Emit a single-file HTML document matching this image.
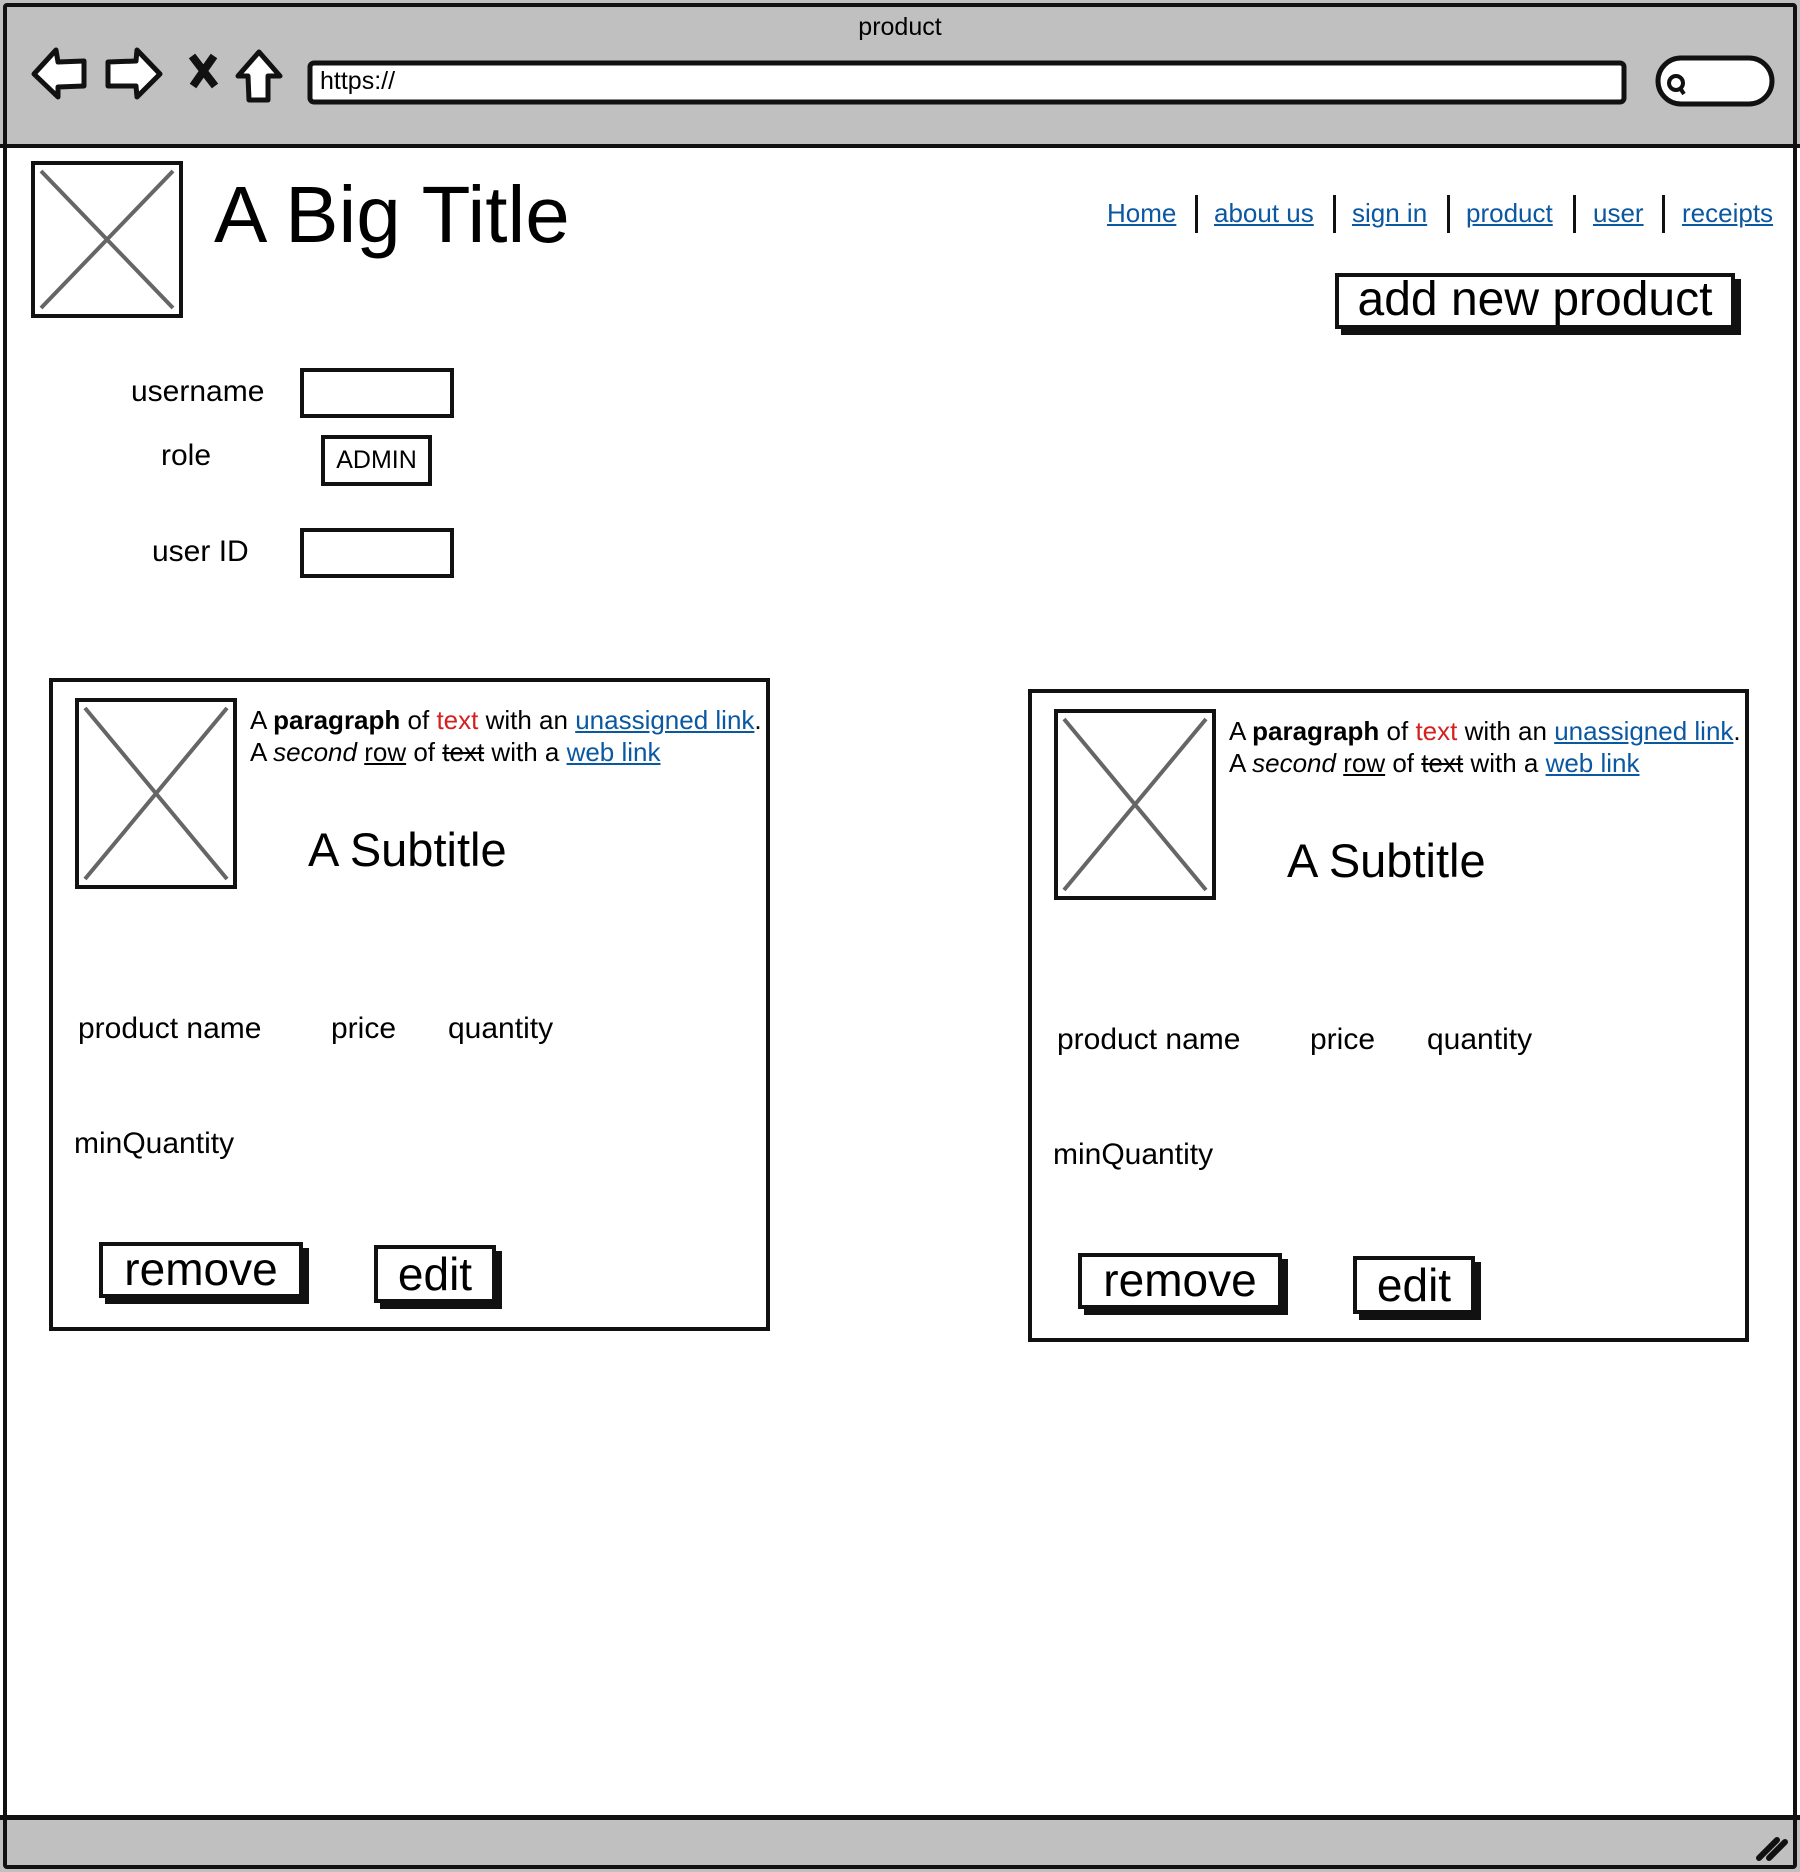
<!DOCTYPE html>
<html><head><meta charset="utf-8"><style>
*{margin:0;padding:0;box-sizing:border-box}
body{width:1800px;height:1872px;position:relative;background:#fff;font-family:"Liberation Sans",sans-serif;color:#000;overflow:hidden}
.a{position:absolute;white-space:nowrap}
.frame{left:3px;top:3px;width:1794px;height:1866px;border:4px solid #111;border-radius:4px}
.lnk{color:#0b58a2;text-decoration:underline}
.sep{position:absolute;width:3px;height:38px;background:#111;top:195px}
.box{position:absolute;border:4px solid #111;background:#fff}
.btn{position:absolute;border:4px solid #111;background:#fff;box-shadow:6px 6px 0 #111;text-align:center}
.card{position:absolute;width:721px;height:653px;border:4px solid #111}
.lbl{position:absolute;font-size:30px;line-height:34px;white-space:nowrap}
</style></head><body>
<div class="a" style="left:0;top:0;width:1800px;height:146px;background:#c0c0c0"></div>
<div class="a" style="left:0;top:144px;width:1800px;height:4px;background:#111"></div>
<div class="a" style="left:0;top:1816px;width:1800px;height:56px;background:#c0c0c0"></div>
<div class="a" style="left:0;top:1815px;width:1800px;height:5px;background:#111"></div>
<div class="a frame"></div>
<div class="a" style="left:800px;top:12px;width:200px;text-align:center;font-size:25px;line-height:30px">product</div>
<svg class="a" style="left:0;top:0" width="1800" height="146">
<g fill="#fff" stroke="#111" stroke-width="5" stroke-linejoin="round">
<path d="M34 74 L56 50 L58 62 L84 61 L84 86 L58 87 L58 97 Z"/>
<path d="M160 74 L137 50 L136 61 L108 62 L108 86 L136 86 L137 97 Z"/>
<path d="M259 52 L238 76 L248 76 L249 100 L268 100 L268 76 L280 76 Z"/>
</g>
<path d="M192 56 L215 86 M214 56 L193 86" stroke="#111" stroke-width="8"/>
<rect x="310" y="63" width="1314" height="39" rx="4" fill="#fff" stroke="#111" stroke-width="5"/>
<rect x="1658" y="58" width="114" height="46" rx="23" fill="#fff" stroke="#111" stroke-width="5"/>
<circle cx="1676" cy="83" r="7" fill="none" stroke="#111" stroke-width="4"/><path d="M1680 88 L1684 94" stroke="#111" stroke-width="4"/>
</svg>
<div class="a" style="left:320px;top:66px;font-size:25px;line-height:30px">https://</div>
<svg class="a" style="left:1755px;top:1832px" width="40" height="30"><path d="M4 26 L22 8 M14 26 L30 10" stroke="#111" stroke-width="6" stroke-linecap="round"/></svg>

<svg class="a" style="left:31px;top:161px" width="152" height="157"><rect x="2" y="2" width="148" height="153" fill="#fff" stroke="#111" stroke-width="4"/><path d="M10 10 L142 147 M142 10 L10 147" stroke="#666" stroke-width="4"/></svg>
<div class="a" style="left:214px;top:170px;font-size:80px;line-height:90px">A Big Title</div>

<div class="a" style="left:1107px;top:196px;font-size:26px;line-height:34px"><span class="lnk">Home</span></div>
<div class="a" style="left:1214px;top:196px;font-size:26px;line-height:34px"><span class="lnk">about us</span></div>
<div class="a" style="left:1352px;top:196px;font-size:26px;line-height:34px"><span class="lnk">sign in</span></div>
<div class="a" style="left:1466px;top:196px;font-size:26px;line-height:34px"><span class="lnk">product</span></div>
<div class="a" style="left:1593px;top:196px;font-size:26px;line-height:34px"><span class="lnk">user</span></div>
<div class="a" style="left:1682px;top:196px;font-size:26px;line-height:34px"><span class="lnk">receipts</span></div>
<div class="sep" style="left:1195px"></div><div class="sep" style="left:1333px"></div><div class="sep" style="left:1447px"></div><div class="sep" style="left:1573px"></div><div class="sep" style="left:1662px"></div>
<div class="btn" style="left:1335px;top:273px;width:400px;height:56px;font-size:48px;line-height:46px">add new product</div>

<div class="lbl" style="left:131px;top:375px">username</div>
<div class="box" style="left:300px;top:368px;width:154px;height:50px"></div>
<div class="lbl" style="left:161px;top:439px">role</div>
<div class="box" style="left:321px;top:435px;width:111px;height:51px;font-size:25px;line-height:43px;text-align:center">ADMIN</div>
<div class="lbl" style="left:152px;top:535px">user ID</div>
<div class="box" style="left:300px;top:528px;width:154px;height:50px"></div>

<div class="card" style="left:49px;top:678px">
<svg class="a" style="left:22px;top:16px" width="162" height="191"><rect x="2" y="2" width="158" height="187" fill="#fff" stroke="#111" stroke-width="4"/><path d="M10 10 L152 181 M152 10 L10 181" stroke="#666" stroke-width="4"/></svg>
<div class="a" style="left:197px;top:22px;font-size:26px;line-height:32px">A <b>paragraph</b> of <span style="color:#d42020">text</span> with an <span class="lnk">unassigned link</span>.<br>A <i>second</i> <u>row</u> of <s>text</s> with a <span class="lnk">web link</span></div>
<div class="a" style="left:255px;top:140px;font-size:47px;line-height:56px">A Subtitle</div>
<div class="lbl" style="left:25px;top:330px">product name</div>
<div class="lbl" style="left:278px;top:330px">price</div>
<div class="lbl" style="left:395px;top:330px">quantity</div>
<div class="lbl" style="left:21px;top:445px">minQuantity</div>
<div class="btn" style="left:46px;top:560px;width:204px;height:56px;font-size:46px;line-height:46px">remove</div>
<div class="btn" style="left:321px;top:563px;width:122px;height:58px;font-size:46px;line-height:50px">edit</div>
</div>
<div class="card" style="left:1028px;top:689px">
<svg class="a" style="left:22px;top:16px" width="162" height="191"><rect x="2" y="2" width="158" height="187" fill="#fff" stroke="#111" stroke-width="4"/><path d="M10 10 L152 181 M152 10 L10 181" stroke="#666" stroke-width="4"/></svg>
<div class="a" style="left:197px;top:22px;font-size:26px;line-height:32px">A <b>paragraph</b> of <span style="color:#d42020">text</span> with an <span class="lnk">unassigned link</span>.<br>A <i>second</i> <u>row</u> of <s>text</s> with a <span class="lnk">web link</span></div>
<div class="a" style="left:255px;top:140px;font-size:47px;line-height:56px">A Subtitle</div>
<div class="lbl" style="left:25px;top:330px">product name</div>
<div class="lbl" style="left:278px;top:330px">price</div>
<div class="lbl" style="left:395px;top:330px">quantity</div>
<div class="lbl" style="left:21px;top:445px">minQuantity</div>
<div class="btn" style="left:46px;top:560px;width:204px;height:56px;font-size:46px;line-height:46px">remove</div>
<div class="btn" style="left:321px;top:563px;width:122px;height:58px;font-size:46px;line-height:50px">edit</div>
</div>
</body></html>
